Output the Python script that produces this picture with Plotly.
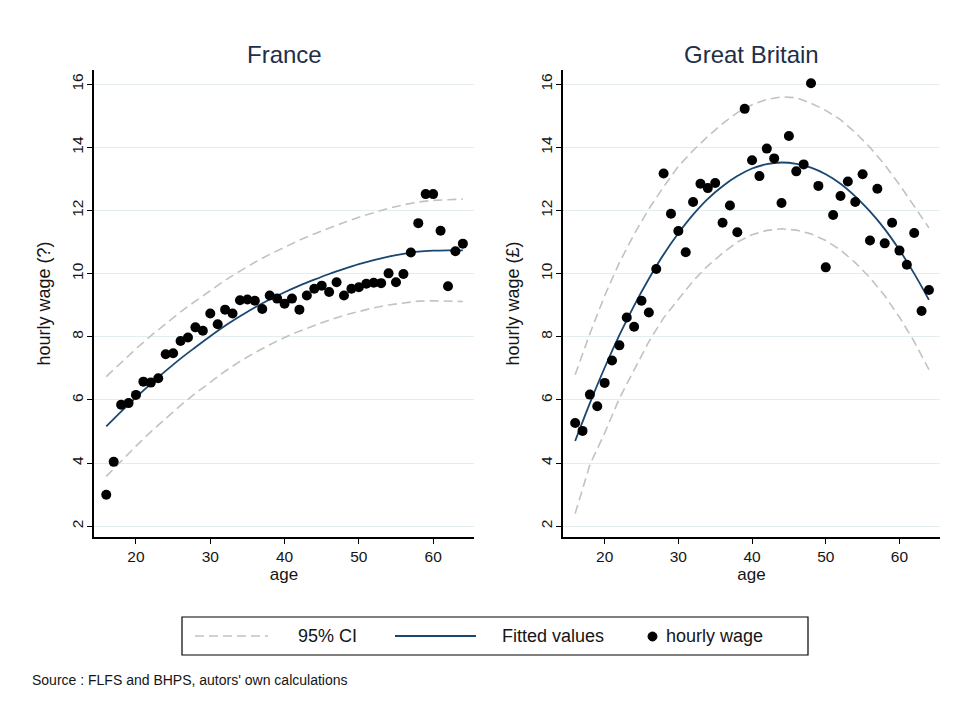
import plotly.graph_objects as go

# ---------------- data ----------------
age = list(range(16, 65))
fit_age = list(range(16, 65, 2))

fr_wage = [3.00, 4.04, 5.85, 5.90, 6.16, 6.58, 6.55, 6.69, 7.45, 7.48,
           7.87, 7.98, 8.30, 8.19, 8.74, 8.40, 8.86, 8.74, 9.16, 9.18,
           9.14, 8.88, 9.31, 9.21, 9.05, 9.21, 8.86, 9.31, 9.52, 9.62,
           9.42, 9.73, 9.31, 9.52, 9.57, 9.68, 9.71, 9.70, 10.01, 9.73,
           9.99, 10.67, 11.60, 12.52, 12.52, 11.36, 9.60, 10.71, 10.95]
fr_fit = [5.16, 5.63, 6.08, 6.51, 6.92, 7.31, 7.67, 8.02, 8.35, 8.65,
          8.93, 9.18, 9.41, 9.62, 9.81, 9.99, 10.15, 10.30, 10.43, 10.54,
          10.63, 10.70, 10.73, 10.74, 10.74]
fr_ci_hi = [6.74, 7.19, 7.62, 8.03, 8.42, 8.79, 9.13, 9.47, 9.79, 10.08,
            10.36, 10.61, 10.84, 11.06, 11.26, 11.45, 11.62, 11.79, 11.94, 12.07,
            12.18, 12.27, 12.32, 12.35, 12.36]
fr_ci_lo = [3.58, 4.07, 4.54, 4.99, 5.42, 5.83, 6.21, 6.57, 6.91, 7.22,
            7.50, 7.75, 7.98, 8.18, 8.36, 8.53, 8.68, 8.81, 8.92, 9.01,
            9.08, 9.13, 9.14, 9.13, 9.12]

gb_wage = [5.27, 5.02, 6.17, 5.80, 6.54, 7.25, 7.73, 8.61, 8.32, 9.14,
           8.77, 10.15, 13.17, 11.90, 11.35, 10.68, 12.27, 12.85, 12.71, 12.87,
           11.61, 12.16, 11.31, 15.22, 13.59, 13.09, 13.96, 13.65, 12.24, 14.36,
           13.24, 13.46, 16.03, 12.78, 10.20, 11.86, 12.46, 12.92, 12.27, 13.15,
           11.05, 12.69, 10.96, 11.61, 10.73, 10.28, 11.29, 8.82, 9.48]
gb_fit = [4.70, 5.90, 7.02, 8.05, 8.99, 9.84, 10.61, 11.28, 11.87, 12.37,
          12.77, 13.09, 13.33, 13.47, 13.52, 13.48, 13.36, 13.15, 12.85, 12.45,
          11.97, 11.41, 10.75, 10.00, 9.17]
gb_ci_hi = [6.80, 8.10, 9.30, 10.35, 11.25, 12.05, 12.75, 13.40, 13.90, 14.35,
            14.75, 15.10, 15.35, 15.52, 15.60, 15.57, 15.40, 15.17, 14.88, 14.47,
            14.00, 13.45, 12.82, 12.15, 11.45]
gb_ci_lo = [2.40, 3.95, 4.95, 6.05, 6.95, 7.85, 8.60, 9.20, 9.77, 10.25,
            10.65, 11.00, 11.23, 11.37, 11.42, 11.38, 11.26, 11.05, 10.75, 10.35,
            9.87, 9.30, 8.62, 7.85, 6.96]

panel_titles = ["France", "Great Britain"]
y_titles = ["hourly wage (?)", "hourly wage (£)"]
x_title = "age"
x_ticks = [20, 30, 40, 50, 60]
y_ticks = [2, 4, 6, 8, 10, 12, 14, 16]
legend_labels = ["95% CI", "Fitted values", "hourly wage"]
source_text = "Source : FLFS and BHPS, autors' own calculations"

# ---------------- style ----------------
W, H = 961, 705
OFF = 8  # page body margin
FONT = "Liberation Sans Narrow, Arial Narrow, Liberation Sans, Arial, sans-serif"
CI_COLOR = "#c2c2c2"
FIT_COLOR = "#1a476f"
GRID = "#e3edf0"
TXT = "#151515"
CI_DASH = "9px,5px"

def px(x):
    return (x - OFF) / W

def py(y):
    return 1 - (y - OFF) / H

fig = go.Figure()

panels = [
    ("x", "y", fr_wage, fr_fit, fr_ci_hi, fr_ci_lo),
    ("x2", "y2", gb_wage, gb_fit, gb_ci_hi, gb_ci_lo),
]
for xa, ya, wage, fit, hi, lo in panels:
    fig.add_trace(go.Scatter(x=fit_age, y=hi, mode="lines", xaxis=xa, yaxis=ya,
                             line=dict(color=CI_COLOR, width=1.6, dash=CI_DASH),
                             showlegend=False, hoverinfo="skip"))
    fig.add_trace(go.Scatter(x=fit_age, y=lo, mode="lines", xaxis=xa, yaxis=ya,
                             line=dict(color=CI_COLOR, width=1.6, dash=CI_DASH),
                             showlegend=False, hoverinfo="skip"))
    fig.add_trace(go.Scatter(x=fit_age, y=fit, mode="lines", xaxis=xa, yaxis=ya,
                             line=dict(color=FIT_COLOR, width=1.8, shape="spline"),
                             showlegend=False))
    fig.add_trace(go.Scatter(x=age, y=wage, mode="markers", xaxis=xa, yaxis=ya,
                             marker=dict(color="black", size=10, symbol="circle"),
                             showlegend=False))

x_domains = [[px(94), px(474)], [px(563), px(940)]]
y_domain = [py(537), py(70)]

common_x = dict(range=[14.35, 65.5], tickvals=x_ticks, ticks="outside", ticklen=5,
                tickwidth=1.2, tickcolor="black", showline=True, linecolor="black",
                linewidth=1.5, showgrid=False, zeroline=False,
                tickfont=dict(family=FONT, size=15.5, color=TXT),
                title=dict(text=x_title, font=dict(family=FONT, size=17, color=TXT), standoff=4))
common_y = dict(range=[1.66, 16.45], tickvals=y_ticks, ticks="outside", ticklen=5,
                tickwidth=1.2, tickcolor="black", showline=True, linecolor="black",
                linewidth=1.5, showgrid=True, gridcolor=GRID, gridwidth=1, zeroline=False,
                tickangle=-90, ticklabelstandoff=-2,
                tickfont=dict(family=FONT, size=15.5, color=TXT))

fig.update_layout(
    xaxis=dict(common_x, domain=x_domains[0], anchor="y"),
    yaxis=dict(common_y, domain=y_domain, anchor="x",
               title=dict(text=y_titles[0], font=dict(family=FONT, size=18, color=TXT), standoff=14)),
    xaxis2=dict(common_x, domain=x_domains[1], anchor="y2"),
    yaxis2=dict(common_y, domain=y_domain, anchor="x2",
                title=dict(text=y_titles[1], font=dict(family=FONT, size=18, color=TXT), standoff=14)),
)

annotations = []
for i, t in enumerate(panel_titles):
    cx = (x_domains[i][0] + x_domains[i][1]) / 2
    annotations.append(dict(text=t, x=cx, y=py(55), xref="paper", yref="paper",
                            showarrow=False, xanchor="center", yanchor="middle",
                            font=dict(family=FONT, size=24, color="#1f2e4a")))

# legend (drawn manually, Stata style)
shapes = [
    dict(type="rect", xref="paper", yref="paper", x0=px(182), x1=px(808), y0=py(655), y1=py(617),
         line=dict(color="black", width=1.2), fillcolor="white"),
    dict(type="line", xref="paper", yref="paper", x0=px(195), x1=px(268), y0=py(636), y1=py(636),
         line=dict(color=CI_COLOR, width=1.6, dash=CI_DASH)),
    dict(type="line", xref="paper", yref="paper", x0=px(395), x1=px(476), y0=py(636), y1=py(636),
         line=dict(color=FIT_COLOR, width=1.8)),
    dict(type="circle", xref="paper", yref="paper", x0=px(648), x1=px(657), y0=py(641), y1=py(632),
         line=dict(color="black", width=1), fillcolor="black"),
]
leg_text = [(legend_labels[0], 296), (legend_labels[1], 500), (legend_labels[2], 664)]
for t, x in leg_text:
    annotations.append(dict(text=t, x=px(x), y=py(636), xref="paper", yref="paper",
                            showarrow=False, xanchor="left", yanchor="middle",
                            font=dict(family=FONT, size=18, color=TXT)))
annotations.append(dict(text=source_text, x=px(30), y=py(680), xref="paper", yref="paper",
                        showarrow=False, xanchor="left", yanchor="middle",
                        font=dict(family=FONT, size=14, color=TXT)))

fig.update_layout(
    width=W, height=H,
    margin=dict(l=0, r=0, t=0, b=0),
    paper_bgcolor="white", plot_bgcolor="white",
    showlegend=False,
    annotations=annotations, shapes=shapes,
    font=dict(family=FONT, color=TXT),
)

fig.write_html("out.html")
